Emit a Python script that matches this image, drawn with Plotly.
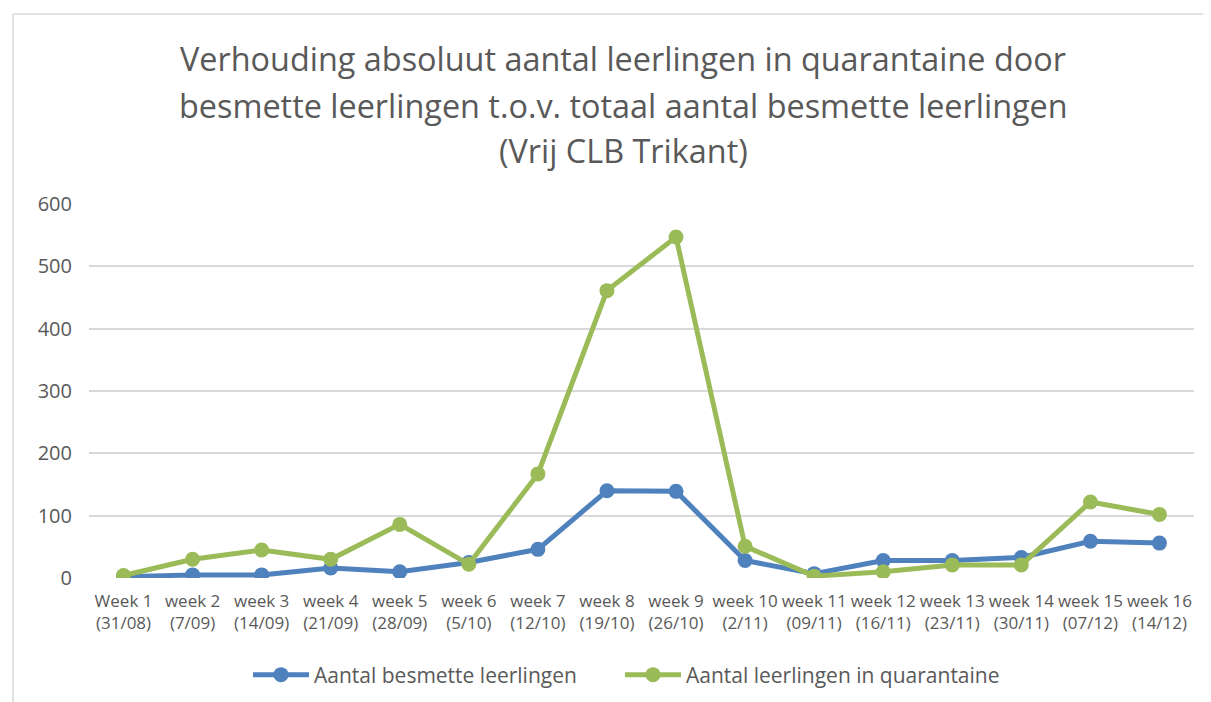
import plotly.graph_objects as go

weeks = ["Week 1<br>(31/08)", "week 2<br>(7/09)", "week 3<br>(14/09)", "week 4<br>(21/09)",
         "week 5<br>(28/09)", "week 6<br>(5/10)", "week 7<br>(12/10)", "week 8<br>(19/10)",
         "week 9<br>(26/10)", "week 10<br>(2/11)", "week 11<br>(09/11)", "week 12<br>(16/11)",
         "week 13<br>(23/11)", "week 14<br>(30/11)", "week 15<br>(07/12)", "week 16<br>(14/12)"]
besmet = [2, 5, 5, 16, 10, 25, 46, 140, 139, 28, 7, 28, 28, 33, 59, 56]
quarantaine = [4, 30, 45, 30, 86, 22, 167, 461, 547, 51, 3, 10, 21, 21, 122, 102]
series_names = ["Aantal besmette leerlingen", "Aantal leerlingen in quarantaine"]
title_lines = ["Verhouding absoluut aantal leerlingen in quarantaine door",
               "besmette leerlingen t.o.v. totaal aantal besmette leerlingen",
               "(Vrij CLB Trikant)"]
y_ticks = [0, 100, 200, 300, 400, 500, 600]

FONT = "Open Sans"
GREY = "#595959"
BLUE = "#4F81BD"
GREEN = "#9BBB59"

fig = go.Figure()
fig.add_trace(go.Scatter(x=weeks, y=besmet, mode="lines+markers", name=series_names[0],
                         line=dict(color=BLUE, width=5), marker=dict(color=BLUE, size=15),
                         legend="legend"))
fig.add_trace(go.Scatter(x=weeks, y=quarantaine, mode="lines+markers", name=series_names[1],
                         line=dict(color=GREEN, width=5), marker=dict(color=GREEN, size=15),
                         legend="legend2"))

W, H = 1211, 702
ml, mr, mt, mb = 81, 25, 196, 132
pw = W - ml - mr
ph = H - mt - mb

def py(pix):
    return (H - mb - pix) / ph

def px(pix):
    return (pix - ml) / pw

title_y = [50, 97, 142]
annotations = []
for t, yy in zip(title_lines, title_y):
    annotations.append(dict(text=t, x=px(615), xref="paper", y=py(yy), yref="paper",
                            xanchor="center", yanchor="middle", showarrow=False,
                            font=dict(family=FONT, size=32.4, color=GREY)))

legend_style = dict(orientation="h", xanchor="left", y=py(667), yanchor="middle",
                    font=dict(family=FONT, size=21, color=GREY), itemwidth=56,
                    bgcolor="rgba(0,0,0,0)")

fig.update_layout(
    width=W, height=H,
    margin=dict(l=ml, r=mr, t=mt, b=mb, autoexpand=False),
    paper_bgcolor="white", plot_bgcolor="white",
    font=dict(family=FONT, color=GREY),
    annotations=annotations,
    showlegend=True,
    legend=dict(x=px(240), **legend_style),
    legend2=dict(x=px(612), **legend_style),
    xaxis=dict(range=[-0.5, 15.5], showgrid=False, showline=False, ticks="", zeroline=False,
               tickfont=dict(family=FONT, size=17, color=GREY), tickangle=0,
               ticklabelstandoff=11),
    yaxis=dict(range=[0, 600], tickvals=y_ticks, showgrid=True, gridcolor="#D9D9D9",
               gridwidth=1.5, zeroline=False, showline=False, ticks="",
               tickfont=dict(family=FONT, size=20, color=GREY), ticklabelstandoff=16),
    shapes=[
        dict(type="line", xref="paper", yref="paper", x0=px(5), x1=px(W),
             y0=py(6), y1=py(6), line=dict(color="#D9D9D9", width=1.5)),
        dict(type="line", xref="paper", yref="paper", x0=px(5), x1=px(5),
             y0=py(6), y1=py(H), line=dict(color="#D9D9D9", width=1.5)),
    ],
)

fig.write_html("out.html")
